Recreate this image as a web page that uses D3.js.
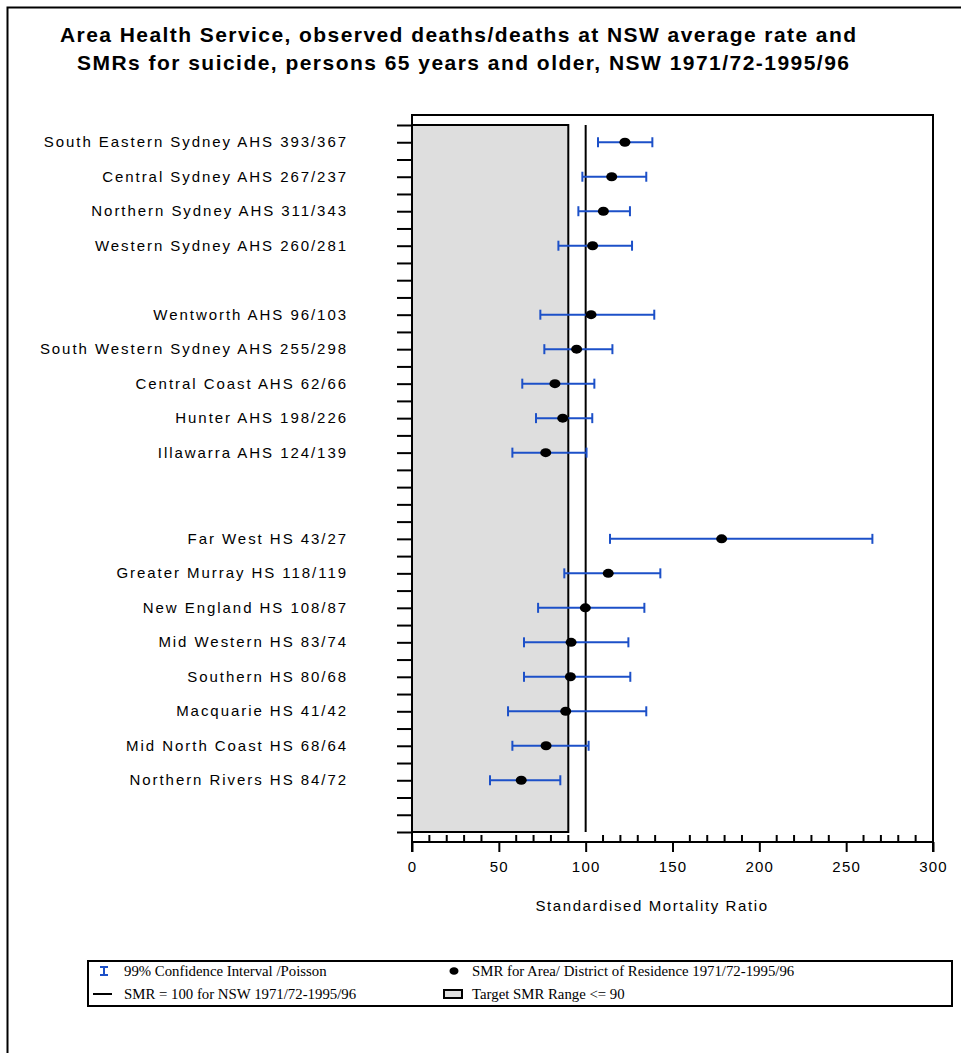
<!DOCTYPE html>
<html>
<head>
<meta charset="utf-8">
<script src="https://cdn.jsdelivr.net/npm/d3@7"></script>
<style>
  html, body { margin: 0; padding: 0; background: #fff; }
  svg { display: block; }
</style>
</head>
<body>
<svg id="chart" width="961" height="1053"></svg>
<script>
// Area / District names in plotting order
const areas = [
  "South Eastern Sydney AHS", "Central Sydney AHS", "Northern Sydney AHS", "Western Sydney AHS",
  "Wentworth AHS", "South Western Sydney AHS", "Central Coast AHS", "Hunter AHS", "Illawarra AHS",
  "Far West HS", "Greater Murray HS", "New England HS", "Mid Western HS", "Southern HS",
  "Macquarie HS", "Mid North Coast HS", "Northern Rivers HS"
];
// observed deaths / deaths expected at NSW average rate
const observed = [393, 267, 311, 260, 96, 255, 62, 198, 124, 43, 118, 108, 83, 80, 41, 68, 84];
const expected = [367, 237, 343, 281, 103, 298, 66, 226, 139, 27, 119, 87, 74, 68, 42, 64, 72];
// standardised mortality ratio and 99% Poisson confidence limits
const smr   = [122.6, 115.0, 110.2, 104.0, 103.1, 94.8, 82.3, 86.8, 77.0, 178.3, 113.0, 99.8, 91.6, 91.2, 88.5, 77.2, 62.9];
const lower = [107.1, 98.1, 95.8, 84.3, 73.9, 76.2, 63.5, 71.4, 57.8, 114.0, 87.7, 72.6, 64.5, 64.5, 55.3, 57.8, 44.9];
const upper = [138.4, 134.9, 125.5, 126.7, 139.5, 115.4, 105.0, 103.8, 100.5, 265.1, 143.0, 133.8, 124.6, 125.7, 134.9, 101.7, 85.4];

// category axis slots ("" = unlabelled tick)
const axisSlots = [
  "", "South Eastern Sydney AHS", "", "Central Sydney AHS", "", "Northern Sydney AHS", "",
  "Western Sydney AHS", "", "", "", "Wentworth AHS", "", "South Western Sydney AHS", "",
  "Central Coast AHS", "", "Hunter AHS", "", "Illawarra AHS", "", "", "", "",
  "Far West HS", "", "Greater Murray HS", "", "New England HS", "", "Mid Western HS", "",
  "Southern HS", "", "Macquarie HS", "", "Mid North Coast HS", "", "Northern Rivers HS", "", "", ""
];

const xTicksMajor = [0, 50, 100, 150, 200, 250, 300];
const nswRate = 100;
const targetSMR = 90;

const titleLines = [
  "Area Health Service, observed deaths/deaths at NSW average rate and",
  "SMRs for suicide, persons 65 years and older, NSW 1971/72-1995/96"
];
const xTitle = "Standardised Mortality Ratio";
const legendItems = [
  "99% Confidence Interval /Poisson",
  "SMR = 100 for NSW 1971/72-1995/96",
  "SMR for Area/ District of Residence 1971/72-1995/96",
  "Target SMR Range <= 90"
];

const rows = areas.map((name, i) => ({
  name, obs: observed[i], exp: expected[i], smr: smr[i], lo: lower[i], hi: upper[i],
  slot: axisSlots.indexOf(name)
}));

const svg = d3.select("#chart");
const BLUE = "#1c50c8";
const SHADE = "#dedede";
const sans = "'Liberation Sans', Arial, sans-serif";
const serif = "'Liberation Serif', 'Times New Roman', serif";

const plot = { left: 412, right: 933, top: 115, slotTop: 125, slotBottom: 832, axisY: 842 };

const x = d3.scaleLinear().domain([0, 300]).range([plot.left, plot.right]);
const y = d3.scalePoint().domain(d3.range(axisSlots.length)).range([plot.slotTop, plot.slotBottom]);

// outer page frame
svg.append("path")
  .attr("d", "M7.5,1060 V7.5 H970")
  .attr("fill", "none").attr("stroke", "#000").attr("stroke-width", 2);

// title, stretched to its set width
const titleLayout = [{ x: 60, y: 42, w: 796 }, { x: 77, y: 70, w: 772 }];
svg.append("g").selectAll("text").data(titleLines).join("text")
  .attr("x", (d, i) => titleLayout[i].x).attr("y", (d, i) => titleLayout[i].y)
  .attr("textLength", (d, i) => titleLayout[i].w).attr("lengthAdjust", "spacing")
  .attr("font-family", sans).attr("font-weight", "bold").attr("font-size", 21)
  .text(d => d);

// target range (SMR <= 90)
svg.append("rect")
  .attr("x", x(0)).attr("y", plot.slotTop)
  .attr("width", x(targetSMR) - x(0)).attr("height", plot.slotBottom - plot.slotTop)
  .attr("fill", SHADE).attr("stroke", "#000").attr("stroke-width", 2);

// NSW reference line
svg.append("line")
  .attr("x1", x(nswRate)).attr("x2", x(nswRate))
  .attr("y1", plot.slotTop).attr("y2", plot.slotBottom)
  .attr("stroke", "#000").attr("stroke-width", 2);

// plot frame
svg.append("path")
  .attr("d", `M${plot.left},${plot.axisY + 10} V${plot.top} H${plot.right} V${plot.axisY + 10}`)
  .attr("fill", "none").attr("stroke", "#000").attr("stroke-width", 2);

// y axis ticks (category slots)
const yAxis = d3.axisLeft(y).tickSize(15).tickFormat(() => "");
const gy = svg.append("g").attr("transform", `translate(${plot.left},0)`).call(yAxis);
gy.select(".domain").remove();
gy.selectAll(".tick line").attr("stroke", "#000").attr("stroke-width", 2);

// category labels
svg.append("g").selectAll("text").data(rows).join("text")
  .attr("x", 348).attr("y", d => y(d.slot) + 5)
  .attr("text-anchor", "end")
  .attr("font-family", sans).attr("font-size", 15).attr("letter-spacing", 1.95)
  .attr("fill", "#000")
  .text(d => `${d.name} ${d.obs}/${d.exp}`);

// x axis: minor ticks up, major ticks down
const gx = svg.append("g").attr("transform", `translate(0,${plot.axisY})`);
gx.append("line").attr("x1", x(0)).attr("x2", x(300)).attr("stroke", "#000").attr("stroke-width", 2);
const minor = x.ticks(30).filter(v => v % 50 !== 0);
gx.selectAll("line.minor").data(minor).join("line").attr("class", "minor")
  .attr("x1", d => x(d)).attr("x2", d => x(d)).attr("y1", 0).attr("y2", -7)
  .attr("stroke", "#000").attr("stroke-width", 2);
const majorAxis = d3.axisBottom(x).tickValues(xTicksMajor).tickSize(10).tickPadding(9).tickFormat(d3.format("d"));
const gMaj = gx.append("g").call(majorAxis);
gMaj.select(".domain").remove();
gMaj.selectAll(".tick line").attr("stroke", "#000").attr("stroke-width", 2);
gMaj.selectAll(".tick text")
  .attr("font-family", sans).attr("font-size", 15).attr("letter-spacing", 1.2).attr("fill", "#000");

svg.append("text")
  .attr("x", 652).attr("y", 911).attr("text-anchor", "middle")
  .attr("font-family", sans).attr("font-size", 15).attr("letter-spacing", 1.6)
  .text(xTitle);

// confidence intervals
const ci = svg.append("g").attr("stroke", BLUE).attr("stroke-width", 2);
rows.forEach(d => {
  const cy = y(d.slot);
  ci.append("line").attr("x1", x(d.lo)).attr("x2", x(d.hi)).attr("y1", cy).attr("y2", cy);
  ci.append("line").attr("x1", x(d.lo)).attr("x2", x(d.lo)).attr("y1", cy - 5).attr("y2", cy + 5);
  ci.append("line").attr("x1", x(d.hi)).attr("x2", x(d.hi)).attr("y1", cy - 5).attr("y2", cy + 5);
});

// SMR markers
svg.append("g").selectAll("ellipse").data(rows).join("ellipse")
  .attr("cx", d => x(d.smr)).attr("cy", d => y(d.slot))
  .attr("rx", 5.5).attr("ry", 4.5).attr("fill", "#000");

// legend
const lg = svg.append("g");
lg.append("rect").attr("x", 88).attr("y", 961).attr("width", 864).attr("height", 45)
  .attr("fill", "#fff").attr("stroke", "#000").attr("stroke-width", 2);
// CI symbol
lg.append("path").attr("d", "M100,967 H108 M104,967 V975 M100,975 H108")
  .attr("stroke", BLUE).attr("stroke-width", 2).attr("fill", "none");
// reference line symbol
lg.append("line").attr("x1", 93).attr("x2", 112).attr("y1", 994).attr("y2", 994)
  .attr("stroke", "#000").attr("stroke-width", 2);
// SMR symbol
lg.append("ellipse").attr("cx", 454).attr("cy", 971).attr("rx", 4.5).attr("ry", 3.8).attr("fill", "#000");
// target range symbol
lg.append("rect").attr("x", 444).attr("y", 990).attr("width", 18).attr("height", 8)
  .attr("fill", SHADE).attr("stroke", "#000").attr("stroke-width", 2);
const legendPos = [[124, 975.5], [124, 998.5], [472, 975.5], [472, 998.5]];
lg.selectAll("text").data(legendItems).join("text")
  .attr("x", (d, i) => legendPos[i][0]).attr("y", (d, i) => legendPos[i][1])
  .attr("font-family", serif).attr("font-size", 14.8)
  .text(d => d);
</script>
</body>
</html>
